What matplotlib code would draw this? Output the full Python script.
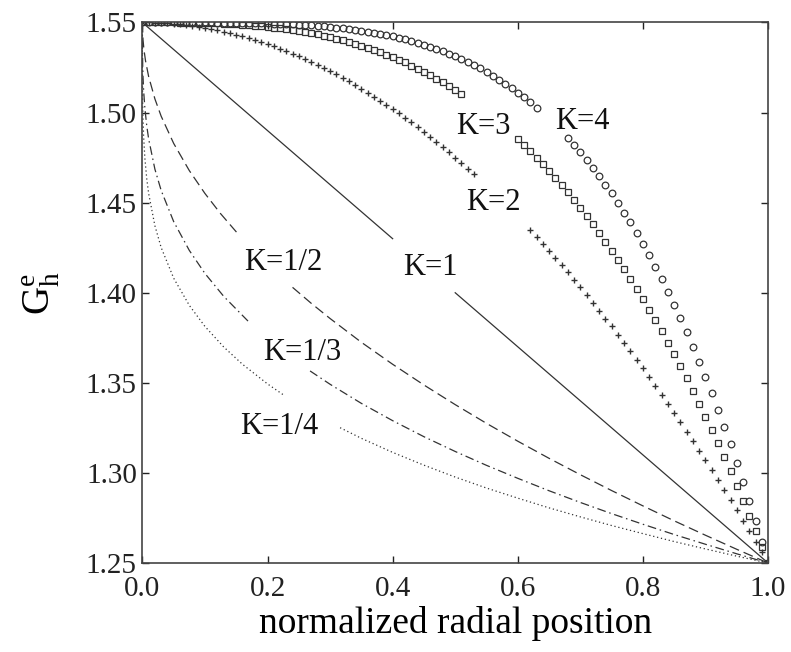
import numpy as np
import matplotlib
matplotlib.use("Agg")
import matplotlib.pyplot as plt

plt.rcParams['font.family'] = ['Liberation Serif', 'DejaVu Serif']
plt.rcParams['mathtext.fontset'] = 'custom'
plt.rcParams['mathtext.rm'] = 'Liberation Serif'

# marker curves are sampled every 0.01
r = np.linspace(0, 1, 101)

g_k2 = [1.5500, 1.5500, 1.5499, 1.5497, 1.5495, 1.5493, 1.5489, 1.5485, 1.5481, 1.5476,
        1.5470, 1.5464, 1.5457, 1.5449, 1.5441, 1.5433, 1.5423, 1.5413, 1.5403, 1.5392,
        1.5380, 1.5368, 1.5355, 1.5341, 1.5327, 1.5313, 1.5297, 1.5281, 1.5265, 1.5248,
        1.5230, 1.5212, 1.5193, 1.5173, 1.5153, 1.5133, 1.5111, 1.5089, 1.5067, 1.5044,
        1.5020, 1.4996, 1.4971, 1.4945, 1.4919, 1.4893, 1.4865, 1.4837, 1.4809, 1.4780,
        1.4750, 1.4720, 1.4689, 1.4657, 1.4625, 1.4593, 1.4559, 1.4525, 1.4491, 1.4456,
        1.4420, 1.4384, 1.4347, 1.4309, 1.4271, 1.4233, 1.4193, 1.4153, 1.4113, 1.4072,
        1.4030, 1.3988, 1.3945, 1.3901, 1.3857, 1.3813, 1.3767, 1.3721, 1.3675, 1.3628,
        1.3580, 1.3532, 1.3483, 1.3433, 1.3383, 1.3333, 1.3281, 1.3229, 1.3177, 1.3124,
        1.3070, 1.3016, 1.2961, 1.2905, 1.2849, 1.2793, 1.2735, 1.2677, 1.2619, 1.2560,
        1.2500]

g_k3 = [1.5500, 1.5500, 1.5500, 1.5500, 1.5500, 1.5500, 1.5499, 1.5499, 1.5498, 1.5498,
        1.5497, 1.5496, 1.5495, 1.5493, 1.5492, 1.5490, 1.5488, 1.5485, 1.5483, 1.5479,
        1.5476, 1.5472, 1.5468, 1.5463, 1.5459, 1.5453, 1.5447, 1.5441, 1.5434, 1.5427,
        1.5419, 1.5411, 1.5402, 1.5392, 1.5382, 1.5371, 1.5360, 1.5348, 1.5335, 1.5322,
        1.5308, 1.5293, 1.5278, 1.5261, 1.5244, 1.5227, 1.5208, 1.5189, 1.5168, 1.5147,
        1.5125, 1.5102, 1.5078, 1.5053, 1.5028, 1.5001, 1.4973, 1.4944, 1.4915, 1.4884,
        1.4852, 1.4819, 1.4785, 1.4750, 1.4714, 1.4676, 1.4638, 1.4598, 1.4557, 1.4514,
        1.4471, 1.4426, 1.4380, 1.4333, 1.4284, 1.4234, 1.4183, 1.4130, 1.4076, 1.4021,
        1.3964, 1.3906, 1.3846, 1.3785, 1.3722, 1.3658, 1.3592, 1.3525, 1.3456, 1.3385,
        1.3313, 1.3239, 1.3164, 1.3087, 1.3008, 1.2928, 1.2846, 1.2762, 1.2676, 1.2589,
        1.2500]

g_k4 = [1.5500, 1.5500, 1.5500, 1.5500, 1.5500, 1.5500, 1.5500, 1.5500, 1.5500, 1.5500,
        1.5500, 1.5500, 1.5499, 1.5499, 1.5499, 1.5498, 1.5498, 1.5497, 1.5497, 1.5496,
        1.5495, 1.5494, 1.5493, 1.5492, 1.5490, 1.5488, 1.5486, 1.5484, 1.5482, 1.5479,
        1.5476, 1.5472, 1.5469, 1.5464, 1.5460, 1.5455, 1.5450, 1.5444, 1.5437, 1.5431,
        1.5423, 1.5415, 1.5407, 1.5397, 1.5388, 1.5377, 1.5366, 1.5354, 1.5341, 1.5327,
        1.5313, 1.5297, 1.5281, 1.5263, 1.5245, 1.5225, 1.5205, 1.5183, 1.5161, 1.5136,
        1.5111, 1.5085, 1.5057, 1.5027, 1.4997, 1.4964, 1.4931, 1.4895, 1.4859, 1.4820,
        1.4780, 1.4738, 1.4694, 1.4648, 1.4600, 1.4551, 1.4499, 1.4445, 1.4390, 1.4331,
        1.4271, 1.4209, 1.4144, 1.4076, 1.4006, 1.3934, 1.3859, 1.3781, 1.3701, 1.3618,
        1.3532, 1.3443, 1.3351, 1.3256, 1.3158, 1.3056, 1.2952, 1.2844, 1.2733, 1.2618,
        1.2500]

# where the labels break the marker curves
gap_k2 = (0.54, 0.61)
gap_k3 = (0.52, 0.59)
gap_k4 = (0.64, 0.67)

# line curves, two pieces each (broken at the label)
r_k1 = [[0.0, 0.40], [0.50, 1.0]]
g_k1 = [[1.55, 1.43], [1.40, 1.25]]

r_k12 = [[0, 0.001, 0.0025, 0.005, 0.01, 0.02, 0.03, 0.05, 0.075, 0.1, 0.125, 0.153],
         [0.24, 0.27, 0.3, 0.35, 0.4, 0.45, 0.5, 0.55, 0.6, 0.65, 0.7, 0.75, 0.8, 0.85, 0.9, 0.95, 1.0]]
g_k12 = [[1.55, 1.5405, 1.535, 1.5288, 1.52, 1.5076, 1.498, 1.4829, 1.4678, 1.4551, 1.4439, 1.4326],
         [1.403, 1.3941, 1.3857, 1.3725, 1.3603, 1.3488, 1.3379, 1.3275, 1.3176, 1.3081, 1.299,
          1.2902, 1.2817, 1.2734, 1.2654, 1.2576, 1.25]]

r_k13 = [[0, 0.0001, 0.0005, 0.001, 0.002, 0.004, 0.007, 0.01, 0.02, 0.03, 0.05, 0.075, 0.1, 0.13, 0.173],
         [0.268, 0.3, 0.35, 0.4, 0.45, 0.5, 0.55, 0.6, 0.65, 0.7, 0.75, 0.8, 0.85, 0.9, 0.95, 1.0]]
g_k13 = [[1.55, 1.5361, 1.5262, 1.52, 1.5122, 1.5024, 1.4926, 1.4854, 1.4686, 1.4568, 1.4395,
          1.4235, 1.4107, 1.398, 1.3828],
         [1.3566, 1.3492, 1.3386, 1.329, 1.3201, 1.3119, 1.3042, 1.297, 1.2901, 1.2836, 1.2774,
          1.2715, 1.2658, 1.2604, 1.2551, 1.25]]

r_k14 = [[0, 0.00001, 0.0001, 0.0005, 0.001, 0.002, 0.004, 0.007, 0.01, 0.02, 0.03, 0.05,
          0.075, 0.1, 0.13, 0.16, 0.2, 0.228],
         [0.316, 0.35, 0.4, 0.45, 0.5, 0.55, 0.6, 0.65, 0.7, 0.75, 0.8, 0.85, 0.9, 0.95, 1.0]]
g_k14 = [[1.55, 1.5331, 1.52, 1.5052, 1.4967, 1.4866, 1.4746, 1.4632, 1.4551, 1.4372, 1.4251,
          1.4081, 1.393, 1.3813, 1.3699, 1.3603, 1.3494, 1.3427],
         [1.3251, 1.3192, 1.3114, 1.3043, 1.2977, 1.2916, 1.286, 1.2806, 1.2756, 1.2708, 1.2663,
          1.2619, 1.2578, 1.2538, 1.25]]

labels = ['K=4', 'K=3', 'K=2', 'K=1', 'K=1/2', 'K=1/3', 'K=1/4']
label_x = [0.703, 0.545, 0.561, 0.46, 0.225, 0.256, 0.219]
label_y = [1.495, 1.492, 1.450, 1.414, 1.417, 1.367, 1.326]

ink = '#333333'


def cut(y, gap):
    y = np.array(y, dtype=float)
    y[(r >= gap[0] - 1e-9) & (r <= gap[1] + 1e-9)] = np.nan
    return y


fig = plt.figure(figsize=(7.91, 6.52), dpi=100)
ax = fig.add_axes([0.18, 0.1365, 0.791, 0.829])

ax.plot(r, cut(g_k4, gap_k4), 'o', ms=4.8, mfc='none', mec=ink, mew=0.9)
ax.plot(r, cut(g_k3, gap_k3), 's', ms=4.2, mfc='none', mec=ink, mew=0.9)
ax.plot(r, cut(g_k2, gap_k2), '+', ms=5.0, mec=ink, mew=1.0)

for xs, ys in zip(r_k1, g_k1):
    ax.plot(xs, ys, '-', color=ink, lw=0.9)
for xs, ys in zip(r_k12, g_k12):
    ax.plot(xs, ys, color=ink, lw=0.9, dashes=(8, 4))
for xs, ys in zip(r_k13, g_k13):
    ax.plot(xs, ys, color=ink, lw=0.9, dashes=(7, 3, 1.2, 3))
for xs, ys in zip(r_k14, g_k14):
    ax.plot(xs, ys, color=ink, lw=0.9, dashes=(1, 2.2))

for t, x, y in zip(labels, label_x, label_y):
    ax.text(x, y, t, fontsize=22, ha='center', va='center', color='#111111')

ax.set_xlim(0, 1)
ax.set_ylim(1.25, 1.55)
ax.set_xticks([0.0, 0.2, 0.4, 0.6, 0.8, 1.0])
ax.set_yticks([1.25, 1.30, 1.35, 1.40, 1.45, 1.50, 1.55])
ax.xaxis.set_major_formatter(matplotlib.ticker.FormatStrFormatter('%.1f'))
ax.yaxis.set_major_formatter(matplotlib.ticker.FormatStrFormatter('%.2f'))
ax.tick_params(direction='in', length=5, width=1, top=True, right=True,
               labelsize=21, colors='#222222')
ax.tick_params(axis='x', pad=9)
ax.tick_params(axis='y', pad=4)
for s in ax.spines.values():
    s.set_linewidth(1.2)
    s.set_color('#444444')

ax.set_xlabel('normalized radial position', fontsize=27, labelpad=3)
ax.set_ylabel(r'$\mathregular{G_h^e}$', fontsize=28, labelpad=17)

plt.savefig('out.png', dpi=100)
